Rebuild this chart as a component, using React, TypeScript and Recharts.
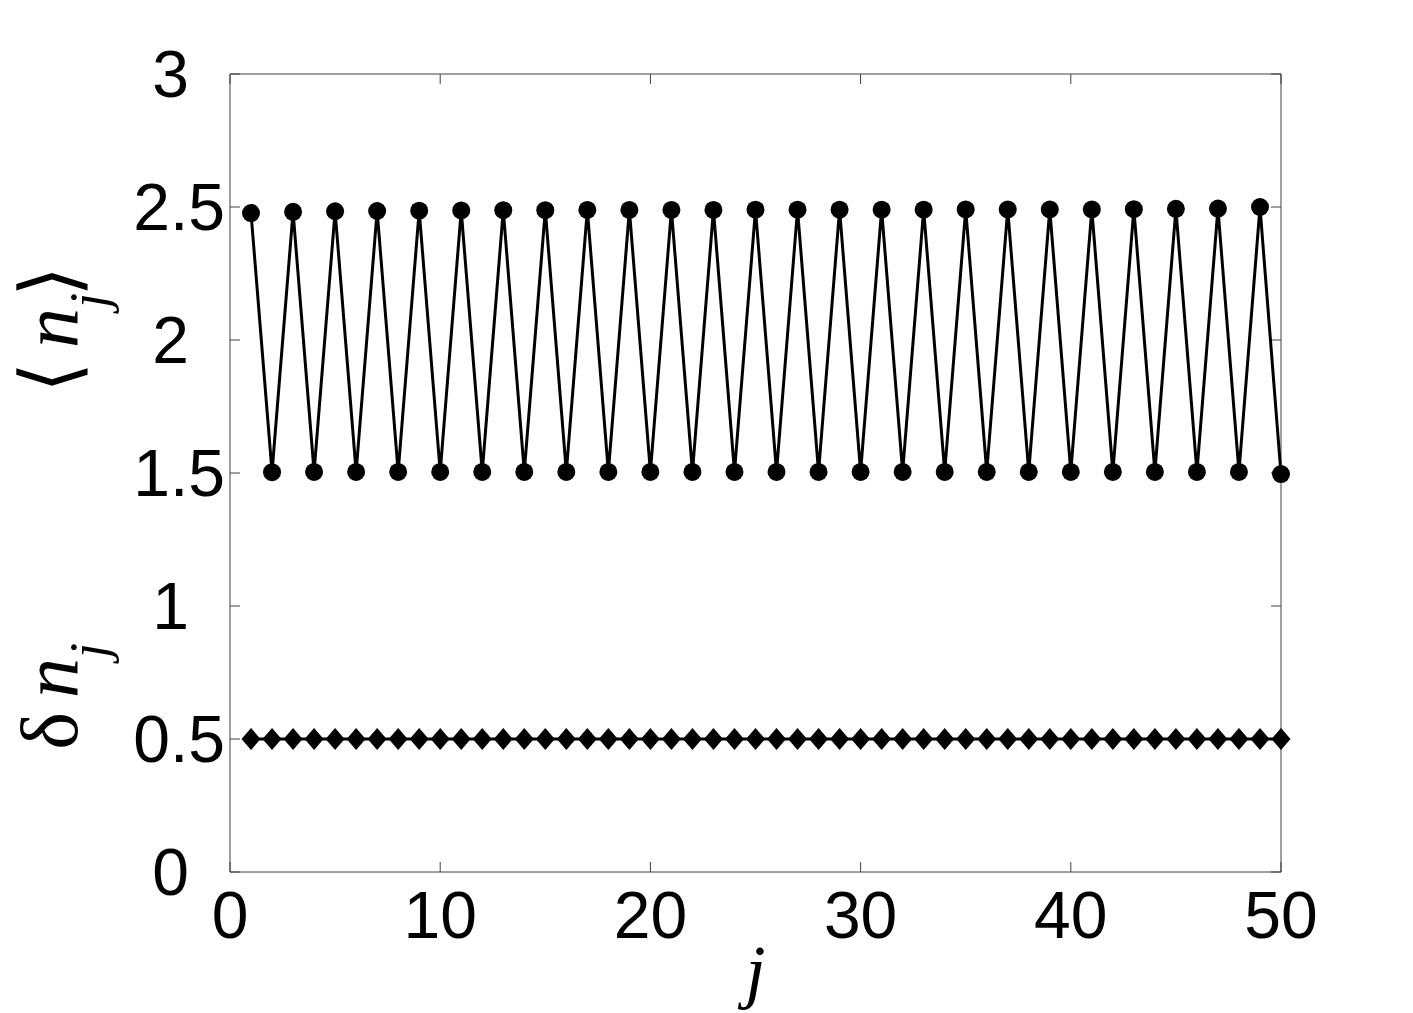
import React from 'react';
import { LineChart, Line, XAxis, YAxis, ReferenceLine } from 'recharts';

// site index j along the chain
const sites = [
  1, 2, 3, 4, 5, 6, 7, 8, 9, 10,
  11, 12, 13, 14, 15, 16, 17, 18, 19, 20,
  21, 22, 23, 24, 25, 26, 27, 28, 29, 30,
  31, 32, 33, 34, 35, 36, 37, 38, 39, 40,
  41, 42, 43, 44, 45, 46, 47, 48, 49, 50,
];

// <n_j> (circles)
const meanOccupation = [
  2.477, 1.503, 2.482, 1.504, 2.484, 1.504, 2.485, 1.504, 2.486, 1.504,
  2.487, 1.504, 2.488, 1.504, 2.488, 1.504, 2.489, 1.504, 2.489, 1.504,
  2.489, 1.504, 2.489, 1.504, 2.49, 1.504, 2.49, 1.504, 2.49, 1.504,
  2.49, 1.504, 2.49, 1.504, 2.491, 1.504, 2.491, 1.504, 2.491, 1.504,
  2.491, 1.504, 2.492, 1.504, 2.493, 1.504, 2.494, 1.504, 2.5, 1.496,
];

// delta n_j (diamonds)
const densityFluctuation = [
  0.5, 0.5, 0.5, 0.5, 0.5, 0.5, 0.5, 0.5, 0.5, 0.5,
  0.5, 0.5, 0.5, 0.5, 0.5, 0.5, 0.5, 0.5, 0.5, 0.5,
  0.5, 0.5, 0.5, 0.5, 0.5, 0.5, 0.5, 0.5, 0.5, 0.5,
  0.5, 0.5, 0.5, 0.5, 0.5, 0.5, 0.5, 0.5, 0.5, 0.5,
  0.5, 0.5, 0.5, 0.5, 0.5, 0.5, 0.5, 0.5, 0.5, 0.5,
];

const xTicks = [0, 10, 20, 30, 40, 50];
const yTicks = [0, 0.5, 1, 1.5, 2, 2.5, 3];

const data = sites.map((j, i) => ({
  j,
  mean: meanOccupation[i],
  delta: densityFluctuation[i],
}));

const AXIS = '#404040';
const TICK_LEN = 10;
const TICK_FONT = '"Liberation Sans", Arial, Helvetica, sans-serif';
const LABEL_FONT = '"Liberation Serif", "Times New Roman", serif';

function XTick({ x, y, payload }: any) {
  return (
    <text x={x} y={y} dy="0.71em" textAnchor="middle" fontFamily={TICK_FONT} fontSize={66} fill="#000">
      {payload.value}
    </text>
  );
}

function YTick({ x, y, payload }: any) {
  const v = payload.value;
  // matlab pads whole numbers to "0  " so they sit left of the ".5" labels
  const pad = Number.isInteger(v) ? 36 : 0;
  return (
    <text x={x - pad} y={y} dy="0.355em" textAnchor="end" fontFamily={TICK_FONT} fontSize={66} fill="#000">
      {v}
    </text>
  );
}

// inward tick marks, drawn at both ends of a reference line
function XTickMarks({ x1, y1, y2 }: any) {
  const top = Math.min(y1, y2);
  const bottom = Math.max(y1, y2);
  return (
    <g stroke={AXIS} strokeWidth={1}>
      <line x1={x1} x2={x1} y1={top} y2={top + TICK_LEN} />
      <line x1={x1} x2={x1} y1={bottom} y2={bottom - TICK_LEN} />
    </g>
  );
}

function YTickMarks({ x1, x2, y1 }: any) {
  const left = Math.min(x1, x2);
  const right = Math.max(x1, x2);
  return (
    <g stroke={AXIS} strokeWidth={1}>
      <line x1={left} x2={left + TICK_LEN} y1={y1} y2={y1} />
      <line x1={right} x2={right - TICK_LEN} y1={y1} y2={y1} />
    </g>
  );
}

function XLabel({ viewBox }: any) {
  const cx = viewBox.x + viewBox.width / 2;
  return (
    <text x={cx} y={viewBox.y + 123} textAnchor="middle" fontFamily={LABEL_FONT} fontStyle="italic" fontSize={72} fill="#000">
      j
    </text>
  );
}

function YLabel({ viewBox }: any) {
  const bx = 77;
  const upper = viewBox.y + viewBox.height * 0.32;
  const lower = viewBox.y + viewBox.height * 0.78;
  return (
    <g fontFamily={LABEL_FONT} fontSize={80} fill="#000">
      <text x={bx} y={upper} transform={`rotate(-90 ${bx} ${upper})`} textAnchor="middle">
        <tspan fontFamily="DejaVu Sans" fontWeight={200}>{'\u27E8'}</tspan>
        <tspan dx={14} fontStyle="italic">n</tspan>
        <tspan fontStyle="italic" fontSize={54} dy={30}>j</tspan>
        <tspan fontFamily="DejaVu Sans" fontWeight={200} dy={-30} dx={-4}>{'\u27E9'}</tspan>
      </text>
      <text x={bx} y={lower} transform={`rotate(-90 ${bx} ${lower})`} textAnchor="middle">
        <tspan>{'\u03B4'}</tspan>
        <tspan dx={14} fontStyle="italic">n</tspan>
        <tspan fontStyle="italic" fontSize={54} dy={30}>j</tspan>
      </text>
    </g>
  );
}

function CircleDot({ cx, cy, index }: any) {
  return <circle key={`c${index}`} cx={cx} cy={cy} r={9} fill="#000" />;
}

function DiamondDot({ cx, cy, index }: any) {
  return (
    <path
      key={`d${index}`}
      d={`M${cx},${cy - 11} L${cx + 9.5},${cy} L${cx},${cy + 11} L${cx - 9.5},${cy} Z`}
      fill="#000"
    />
  );
}

export default function App() {
  return (
    <div style={{ position: 'absolute', left: 0, top: 0, width: 1413, height: 1013, background: '#fff' }}>
      <LineChart width={1413} height={1013} data={data} margin={{ top: 74, right: 132, left: 0, bottom: 0 }}>
        <XAxis
          dataKey="j"
          type="number"
          domain={[0, 50]}
          ticks={xTicks}
          height={141}
          stroke={AXIS}
          tickLine={false}
          tickSize={0}
          tickMargin={19}
          tick={<XTick />}
          label={{ content: XLabel }}
        />
        <YAxis
          type="number"
          domain={[0, 3]}
          ticks={yTicks}
          width={230}
          stroke={AXIS}
          tickLine={false}
          tickSize={0}
          tickMargin={5}
          tick={<YTick />}
          label={{ content: YLabel }}
        />
        {/* top and right sides of the box */}
        <ReferenceLine y={3} stroke={AXIS} strokeWidth={1} />
        <ReferenceLine x={50} stroke={AXIS} strokeWidth={1} />
        {xTicks.map((v) => (
          <ReferenceLine key={`xt${v}`} x={v} shape={XTickMarks} />
        ))}
        {yTicks.map((v) => (
          <ReferenceLine key={`yt${v}`} y={v} shape={YTickMarks} />
        ))}
        <Line
          dataKey="mean"
          type="linear"
          stroke="#000"
          strokeWidth={3}
          dot={CircleDot}
          activeDot={false}
          isAnimationActive={false}
        />
        <Line
          dataKey="delta"
          type="linear"
          stroke="#000"
          strokeWidth={3}
          dot={DiamondDot}
          activeDot={false}
          isAnimationActive={false}
        />
      </LineChart>
    </div>
  );
}
